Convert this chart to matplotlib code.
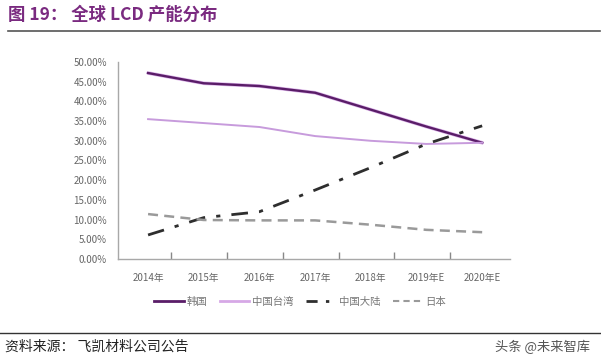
import matplotlib.pyplot as plt
from matplotlib.ticker import FuncFormatter, FixedLocator
from matplotlib.lines import Line2D

plt.rcParams['font.family'] = ['Noto Sans CJK SC', 'DejaVu Sans']

years = ["2014年", "2015年", "2016年", "2017年", "2018年", "2019年E", "2020年E"]
korea = [47.2, 44.6, 43.9, 42.2, 37.9, 33.6, 29.5]
taiwan = [35.5, 34.5, 33.5, 31.2, 30.0, 29.2, 29.5]
mainland = [6.1, 10.5, 12.0, 17.5, 23.2, 29.2, 33.8]
japan = [11.4, 9.9, 9.8, 9.8, 8.7, 7.4, 6.8]

fig = plt.figure(figsize=(6.01, 3.64), dpi=100)
ax = fig.add_axes([118/601, 1-259/364, (510-118)/601, (259-62)/364])

x = list(range(len(years)))
ax.plot(x, korea, color="#dcb4ea", lw=2.6, solid_capstyle="round")
ax.plot(x, korea, color="#5a1d68", lw=1.7, label="韩国")
ax.plot(x, taiwan, color="#c79bdc", lw=1.4, label="中国台湾")
ax.plot(x, mainland, color="#2e2e2e", lw=2.0, dashes=(6, 4, 1.5, 4), label="中国大陆")
ax.plot(x, japan, color="#9a9a9a", lw=1.8, dashes=(4, 2.5), label="日本")

ax.set_ylim(0, 50)
ax.set_xlim(-0.54, 6.5)
ax.set_yticks([i*5 for i in range(11)])
ax.yaxis.set_major_formatter(FuncFormatter(lambda v, p: f"{v:.2f}%"))
ax.tick_params(axis="y", length=0, labelsize=7, labelcolor="#666666", pad=8)
ax.set_xticks(x)
ax.set_xticklabels(years)
ax.tick_params(axis="x", which="major", length=0, labelsize=7, labelcolor="#666666", pad=10)
ax.xaxis.set_minor_locator(FixedLocator([i + 0.42 for i in range(6)]))
ax.tick_params(axis="x", which="minor", direction="in", length=5, width=1.0, color="#888888")
for s in ["top", "right"]:
    ax.spines[s].set_visible(False)
for s in ["left", "bottom"]:
    ax.spines[s].set_color("#a8a8a8")
    ax.spines[s].set_linewidth(1.0)

handles = [
    Line2D([], [], color="#5a1d68", lw=2),
    Line2D([], [], color="#d6a8e6", lw=2),
    Line2D([], [], color="#2e2e2e", lw=2, dashes=(4, 3, 1.2, 3)),
    Line2D([], [], color="#9a9a9a", lw=1.5, dashes=(3, 2)),
]
fig.legend(handles, ["韩国", "中国台湾", "中国大陆", "日本"], loc="center",
           bbox_to_anchor=(300/601, 1-302/364), ncol=4, frameon=False,
           fontsize=7.5, labelcolor="#777777", handlelength=2.8,
           handletextpad=0.3, columnspacing=1.2)

fig.text(8/601, 1-15/364, "图 19： 全球 LCD 产能分布", fontsize=12.5, fontweight="bold",
         color="#7a2a80", va="center", ha="left")
fig.add_artist(Line2D([8/601, 600/601], [1-31/364, 1-31/364], color="#555555", lw=1.2))
fig.add_artist(Line2D([0, 600/601], [1-333/364, 1-333/364], color="#333333", lw=1.0))
fig.text(5/601, 1-347/364, "资料来源： 飞凯材料公司公告", fontsize=10, color="#222222",
         va="center", ha="left")
fig.text(590/601, 1-347/364, "头条 @未来智库", fontsize=9.5, color="#555555",
         va="center", ha="right")

fig.savefig("out.png", dpi=100)
